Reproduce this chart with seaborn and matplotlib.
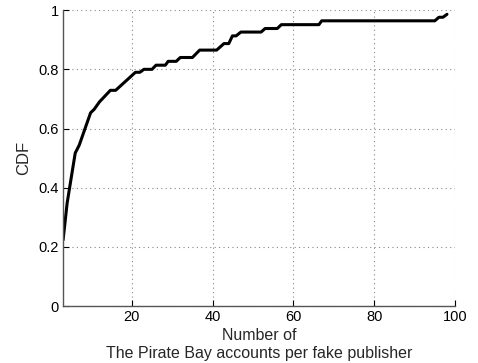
import matplotlib
matplotlib.use("Agg")
import matplotlib.pyplot as plt
import seaborn as sns
import pandas as pd

# CDF curve
accounts = [3, 4, 6, 7, 9.8, 10.7, 12, 14.7, 16, 20.9, 22, 23, 25, 26, 28.3, 29, 31,
            32, 35, 36.8, 41, 42.8, 44, 44.9, 45.8, 47, 52, 53, 56, 57, 66.3, 67,
            95, 96, 97, 98]
cdf = [0.223, 0.348, 0.517, 0.544, 0.653, 0.665, 0.69, 0.729, 0.729, 0.79, 0.79,
       0.80, 0.80, 0.814, 0.814, 0.827, 0.827, 0.84, 0.84, 0.865, 0.865, 0.887,
       0.887, 0.913, 0.913, 0.926, 0.926, 0.938, 0.938, 0.951, 0.951, 0.964,
       0.964, 0.976, 0.976, 0.986]

x_ticks = [20, 40, 60, 80, 100]
y_ticks = [0, 0.2, 0.4, 0.6, 0.8, 1]
y_tick_labels = ["0", "0.2", "0.4", "0.6", "0.8", "1"]

df = pd.DataFrame({"accounts": accounts, "cdf": cdf})

sns.set_style("ticks")
plt.rcParams["font.family"] = ["Liberation Sans", "DejaVu Sans"]

fig = plt.figure(figsize=(4.78, 3.63), dpi=100)
ax = fig.add_axes([0.132, 0.157, 0.82, 0.815])

sns.lineplot(data=df, x="accounts", y="cdf", color="black", linewidth=2.2, ax=ax)

ax.set_xlim(3, 100)
ax.set_ylim(0, 1)
ax.set_xticks(x_ticks)
ax.set_yticks(y_ticks)
ax.set_yticklabels(y_tick_labels)
ax.tick_params(direction="in", length=4, labelsize=10.5, colors="black", pad=3)
ax.grid(True, linestyle=(0, (1, 3)), color="#888888", linewidth=0.8)

for side in ["top", "right"]:
    ax.spines[side].set_visible(False)
for side in ["left", "bottom"]:
    ax.spines[side].set_color("#555555")
    ax.spines[side].set_linewidth(1.0)

ax.set_xlabel("Number of\nThe Pirate Bay accounts per fake publisher", fontsize=11.5,
              labelpad=3, linespacing=1.25)
ax.set_ylabel("CDF", fontsize=12, labelpad=5)

fig.savefig("out.png", dpi=100)
